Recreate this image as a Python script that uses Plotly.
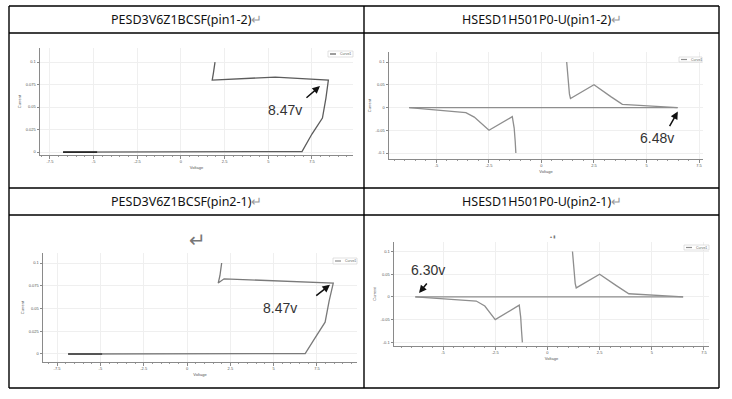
import plotly.graph_objects as go

W, H = 732, 399

# ---------------- data ----------------
titles = ["PESD3V6Z1BCSF(pin1-2)", "HSESD1H501P0-U(pin1-2)",
          "PESD3V6Z1BCSF(pin2-1)", "HSESD1H501P0-U(pin2-1)"]

# PESD3V6Z1BCSF pin1-2
pesd12_v = [-6.75, -4.8, 6.93, 7.5, 8.1, 8.3, 8.44, 5.4, 1.79, 1.86, 1.92, 1.95]
pesd12_i = [0.0, 0.0, 0.0005, 0.02, 0.0378, 0.06, 0.08, 0.0833, 0.08, 0.088, 0.095, 0.1]
pesd12_start_v = [-6.75, -4.8]
pesd12_start_i = [0.0, 0.0]

# PESD3V6Z1BCSF pin2-1
pesd21_v = [-6.86, -4.9, 6.82, 7.4, 7.97, 8.2, 8.44, 2.14, 1.8, 1.9, 1.97, 2.0]
pesd21_i = [0.0, 0.0, 0.0005, 0.018, 0.035, 0.058, 0.078, 0.0826, 0.078, 0.086, 0.094, 0.1]
pesd21_start_v = [-6.86, -4.9]
pesd21_start_i = [0.0, 0.0]

# HSESD1H501P0-U pin1-2
hs12_neg_v = [-6.3, -3.6, -3.2, -2.9, -2.5, -1.39, -1.3, -1.25, -1.22]
hs12_neg_i = [0.0, -0.011, -0.021, -0.033, -0.05, -0.02, -0.045, -0.075, -0.1]
hs12_pos_v = [1.2, 1.28, 1.33, 1.38, 2.5, 3.3, 3.85, 6.48]
hs12_pos_i = [0.1, 0.05, 0.03, 0.02, 0.05, 0.024, 0.007, 0.0]
hs12_base_v = [6.48, -6.3]
hs12_base_i = [0.0, 0.0]

# HSESD1H501P0-U pin2-1
hs21_neg_v = [-6.33, -3.41, -3.0, -2.8, -2.5, -1.35, -1.28, -1.24, -1.2]
hs21_neg_i = [0.0, -0.009, -0.02, -0.032, -0.05, -0.018, -0.045, -0.075, -0.1]
hs21_pos_v = [1.2, 1.28, 1.33, 1.38, 2.5, 3.3, 3.9, 6.5]
hs21_pos_i = [0.1, 0.05, 0.03, 0.02, 0.05, 0.025, 0.007, 0.0]
hs21_base_v = [6.5, -6.33]
hs21_base_i = [0.0, 0.0]

pesd_xticks = [-7.5, -5, -2.5, 0, 2.5, 5, 7.5]
pesd_xtext = ["-7.5", "-5", "-2.5", "0", "2.5", "5", "7.5"]
pesd_yticks = [0, 0.025, 0.05, 0.075, 0.1]
pesd_ytext = ["0", "0.025", "0.05", "0.075", "0.1"]
hs_xticks = [-5, -2.5, 0, 2.5, 5, 7.5]
hs_xtext = ["-5", "-2.5", "0", "2.5", "5", "7.5"]
hs_yticks = [-0.1, -0.05, 0, 0.05, 0.1]
hs_ytext = ["-0.1", "-0.05", "0", "0.05", "0.1"]

labels = ["8.47v", "6.48v", "8.47v", "6.30v"]

# ---------------- figure ----------------
fig = go.Figure()
PESD_C = "#5c5c5c"
HS_C = "#8e8e8e"

def px_x(p): return p / W
def px_y(p): return 1 - p / H

# TL (x,y), TR (x2,y2), BL (x3,y3), BR (x4,y4)
fig.add_trace(go.Scatter(x=pesd12_v, y=pesd12_i, mode="lines", line=dict(color=PESD_C, width=1.3), xaxis="x", yaxis="y"))
fig.add_trace(go.Scatter(x=pesd12_start_v, y=pesd12_start_i, mode="lines", line=dict(color="#2a2a2a", width=1.8), xaxis="x", yaxis="y"))
fig.add_trace(go.Scatter(x=hs12_base_v, y=hs12_base_i, mode="lines", line=dict(color=HS_C, width=1.3), xaxis="x2", yaxis="y2"))
fig.add_trace(go.Scatter(x=hs12_neg_v, y=hs12_neg_i, mode="lines", line=dict(color=HS_C, width=1.3), xaxis="x2", yaxis="y2"))
fig.add_trace(go.Scatter(x=hs12_pos_v, y=hs12_pos_i, mode="lines", line=dict(color=HS_C, width=1.3), xaxis="x2", yaxis="y2"))
fig.add_trace(go.Scatter(x=pesd21_v, y=pesd21_i, mode="lines", line=dict(color="#7a7a7a", width=1.3), xaxis="x3", yaxis="y3"))
fig.add_trace(go.Scatter(x=pesd21_start_v, y=pesd21_start_i, mode="lines", line=dict(color="#555555", width=1.8), xaxis="x3", yaxis="y3"))
fig.add_trace(go.Scatter(x=hs21_base_v, y=hs21_base_i, mode="lines", line=dict(color=HS_C, width=1.3), xaxis="x4", yaxis="y4"))
fig.add_trace(go.Scatter(x=hs21_neg_v, y=hs21_neg_i, mode="lines", line=dict(color=HS_C, width=1.3), xaxis="x4", yaxis="y4"))
fig.add_trace(go.Scatter(x=hs21_pos_v, y=hs21_pos_i, mode="lines", line=dict(color=HS_C, width=1.3), xaxis="x4", yaxis="y4"))

def xa(domain, rng, tv, tt, anchor):
    return dict(domain=domain, range=rng, tickvals=tv, ticktext=tt, anchor=anchor,
                showline=True, linecolor="#8a8a8a", linewidth=1, ticks="outside", ticklen=2.5,
                tickcolor="#8a8a8a", tickfont=dict(size=4, color="#555", family="Liberation Sans"),
                showgrid=True, gridcolor="#efefef", gridwidth=0.6, zeroline=False,
                minor=dict(ticks="outside", ticklen=1.2, dtick=0.5, tickcolor="#999", showgrid=False),
                title=dict(text="Voltage", font=dict(size=4, color="#555", family="Liberation Sans"), standoff=2),
                fixedrange=True)

def ya(domain, rng, tv, tt, anchor):
    return dict(domain=domain, range=rng, tickvals=tv, ticktext=tt, anchor=anchor,
                showline=True, linecolor="#8a8a8a", linewidth=1, ticks="outside", ticklen=2.5,
                tickcolor="#8a8a8a", tickfont=dict(size=4, color="#555", family="Liberation Sans"),
                showgrid=True, gridcolor="#efefef", gridwidth=0.6, zeroline=False,
                title=dict(text="Current", font=dict(size=4, color="#555", family="Liberation Sans"), standoff=4),
                fixedrange=True)

fig.update_layout(
    width=W, height=H, margin=dict(l=0, r=0, t=0, b=0),
    paper_bgcolor="white", plot_bgcolor="white", showlegend=False,
    xaxis=xa([px_x(40), px_x(353)], [-8.07, 9.85], pesd_xticks, pesd_xtext, "y"),
    yaxis=ya([px_y(155), px_y(48)], [-0.0033, 0.1156], pesd_yticks, pesd_ytext, "x"),
    xaxis2=xa([px_x(389), px_x(703)], [-7.26, 7.69], hs_xticks, hs_xtext, "y2"),
    yaxis2=ya([px_y(159), px_y(52)], [-0.113, 0.122], hs_yticks, hs_ytext, "x2"),
    xaxis3=xa([px_x(43), px_x(357)], [-8.31, 9.81], pesd_xticks, pesd_xtext, "y3"),
    yaxis3=ya([px_y(362), px_y(253)], [-0.0088, 0.111], pesd_yticks, pesd_ytext, "x3"),
    xaxis4=xa([px_x(394), px_x(709)], [-7.35, 7.74], hs_xticks, hs_xtext, "y4"),
    yaxis4=ya([px_y(346), px_y(242)], [-0.108, 0.121], hs_yticks, hs_ytext, "x4"),
)

shapes = []
# table borders
for yy in [6, 33, 188, 215, 388]:
    shapes.append(dict(type="line", xref="paper", yref="paper", x0=px_x(9), x1=px_x(719),
                       y0=px_y(yy), y1=px_y(yy), line=dict(color="black", width=1.4)))
for xx in [9, 364, 719]:
    shapes.append(dict(type="line", xref="paper", yref="paper", x0=px_x(xx), x1=px_x(xx),
                       y0=px_y(6), y1=px_y(388), line=dict(color="black", width=1.4)))

annotations = []
# titles
centers = [(186.5, 19.5), (541.5, 19.5), (186.5, 201.5), (541.5, 201.5)]
for t, (cx, cy) in zip(titles, centers):
    annotations.append(dict(xref="paper", yref="paper", x=px_x(cx), y=px_y(cy), showarrow=False,
                            text=t + "<span style='color:#9a9a9a'>↵</span>",
                            font=dict(size=12.5, color="#111", family="Noto Sans"),
                            xanchor="center", yanchor="middle"))

# manual legends (box + sample line + label)
legends = [(328, 353, 51, 57, PESD_C), (679, 702, 57, 62, HS_C), (333, 357, 258, 264, HS_C), (684, 709, 245, 250, HS_C)]
for x0, x1, y0, y1, c in legends:
    shapes.append(dict(type="rect", xref="paper", yref="paper", x0=px_x(x0), x1=px_x(x1),
                       y0=px_y(y1), y1=px_y(y0), line=dict(color="#cfcfcf", width=0.6), fillcolor="white"))
    ym = (y0 + y1) / 2
    shapes.append(dict(type="line", xref="paper", yref="paper", x0=px_x(x0 + 2), x1=px_x(x0 + 8),
                       y0=px_y(ym), y1=px_y(ym), line=dict(color=c, width=1.2)))
    annotations.append(dict(xref="paper", yref="paper", x=px_x(x0 + 9.5), y=px_y(ym), showarrow=False,
                            text="Curve1", font=dict(size=3.5, color="#666", family="Liberation Sans"),
                            xanchor="left", yanchor="middle"))

# arrows and voltage labels
arrows = [
    ("x", "y", 7.96, 0.0733, 7.1, 0.0589, 5.95, 0.0467),
    ("x2", "y2", 6.49, -0.0088, 6.06, -0.044, 5.48, -0.066),
    ("x3", "y3", 8.25, 0.076, 7.37, 0.0628, 5.37, 0.0507),
    ("x4", "y4", -6.15, 0.0088, -5.72, 0.033, -5.72, 0.059),
]
for lab, (xr, yr, hx, hy, tx, ty, lx, ly) in zip(labels, arrows):
    annotations.append(dict(xref=xr, yref=yr, x=hx, y=hy, axref=xr, ayref=yr, ax=tx, ay=ty,
                            showarrow=True, arrowhead=2, arrowsize=1, arrowwidth=1.5,
                            arrowcolor="#111", text=""))
    annotations.append(dict(xref=xr, yref=yr, x=lx, y=ly, showarrow=False, text=lab,
                            font=dict(size=14, color="#333", family="Liberation Sans"),
                            xanchor="center", yanchor="middle"))

# stray paragraph mark in lower-left cell and small glyphs in lower-right cell
annotations.append(dict(xref="paper", yref="paper", x=px_x(197), y=px_y(240), showarrow=False,
                        text="↵", font=dict(size=20, color="#777", family="DejaVu Sans"),
                        xanchor="center", yanchor="middle"))
annotations.append(dict(xref="paper", yref="paper", x=px_x(552), y=px_y(236), showarrow=False,
                        text="▴ ▮", font=dict(size=4, color="#777", family="DejaVu Sans"),
                        xanchor="center", yanchor="middle"))

fig.update_layout(shapes=shapes, annotations=annotations)
fig.write_html("out.html")
